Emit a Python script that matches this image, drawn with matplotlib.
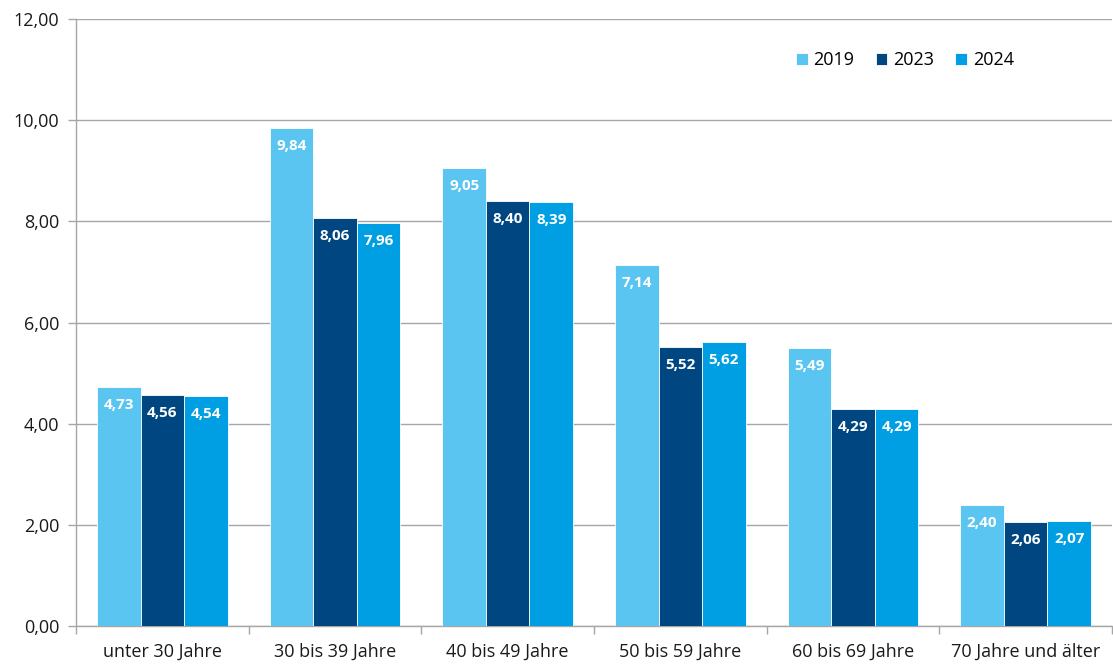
import matplotlib.pyplot as plt
import numpy as np

plt.rcParams['font.family'] = ['Open Sans', 'DejaVu Sans']

categories = ["unter 30 Jahre", "30 bis 39 Jahre", "40 bis 49 Jahre",
              "50 bis 59 Jahre", "60 bis 69 Jahre", "70 Jahre und älter"]
years = ["2019", "2023", "2024"]
values_2019 = [4.73, 9.84, 9.05, 7.14, 5.49, 2.40]
values_2023 = [4.56, 8.06, 8.40, 5.52, 4.29, 2.06]
values_2024 = [4.54, 7.96, 8.39, 5.62, 4.29, 2.07]
colors = ["#5bc5f2", "#004781", "#009fe3"]


def fmt(v):
    return f"{v:.2f}".replace(".", ",")


fig = plt.figure(figsize=(11.13, 6.64), dpi=100)
ax = fig.add_axes([0.0683, 0.0572, 0.9308, 0.9142])

x = np.arange(len(categories))
width = 0.252
series = [values_2019, values_2023, values_2024]
for i, (vals, col, lab) in enumerate(zip(series, colors, years)):
    pos = x + (i - 1) * width
    bars = ax.bar(pos, vals, width, color=col, label=lab,
                  edgecolor="white", linewidth=0.6, zorder=3)
    for b, v in zip(bars, vals):
        ax.annotate(fmt(v), (b.get_x() + b.get_width() / 2, v),
                    xytext=(0, -13), textcoords="offset points",
                    ha="center", va="center", color="white",
                    fontsize=11, fontweight="bold", zorder=4)

ax.set_xlim(-0.5, len(categories) - 0.5)
ax.set_ylim(0, 12)
ax.set_yticks(np.arange(0, 12.1, 2))
ax.set_yticklabels([fmt(v) for v in np.arange(0, 12.1, 2)], fontsize=13)
ax.yaxis.grid(True, color="#a6a6a6", linewidth=1, zorder=0)

# category labels centred, tick marks on the boundaries
ax.set_xticks(x)
ax.set_xticklabels(categories, fontsize=13)
ax.tick_params(axis="x", length=0, pad=12, labelcolor="#1a1a1a")
ax.set_xticks(np.arange(-0.5, len(categories)), minor=True)
ax.tick_params(axis="x", which="minor", length=6, color="#a6a6a6", width=1)
ax.tick_params(axis="y", length=6, colors="#a6a6a6", width=1, pad=6,
               labelcolor="#1a1a1a")

for side in ["top", "right"]:
    ax.spines[side].set_visible(False)
for side in ["left", "bottom"]:
    ax.spines[side].set_color("#a6a6a6")
    ax.spines[side].set_linewidth(1)

ax.legend(loc="center", bbox_to_anchor=(0.8, 0.932), ncol=3, frameon=False,
          fontsize=13, handlelength=0.65, handleheight=0.65,
          handletextpad=0.3, columnspacing=1.2)

fig.savefig("out.png", dpi=100)
